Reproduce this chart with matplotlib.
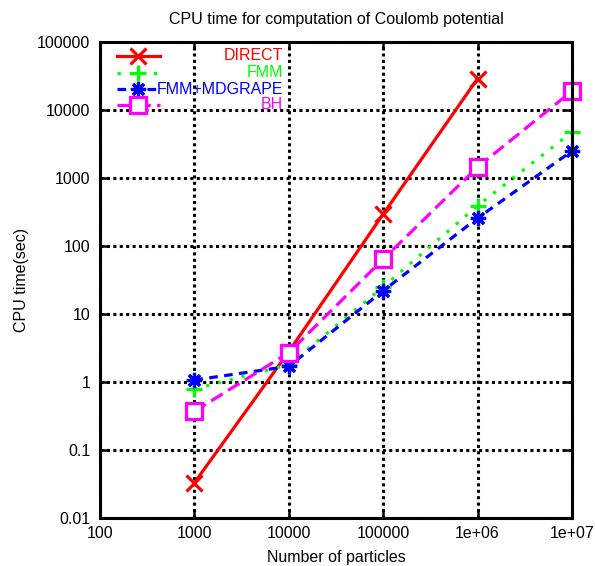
import matplotlib
matplotlib.use('Agg')
import matplotlib.pyplot as plt

# ---- data ----
n_all = [1000, 10000, 100000, 1000000, 10000000]
n_direct = [1000, 10000, 100000, 1000000]
direct = [0.033, 2.8, 295, 29000]
fmm = [0.79, 1.8, 25, 390, 4750]
mdgrape = [1.07, 1.7, 22, 257, 2500]
bh = [0.37, 2.7, 64, 1450, 19000]

xticks = [100, 1000, 10000, 100000, 1000000, 10000000]
xlabels = ["100", "1000", "10000", "100000", "1e+06", "1e+07"]
yticks = [0.01, 0.1, 1, 10, 100, 1000, 10000, 100000]
ylabels = ["0.01", "0.1", "1", "10", "100", "1000", "10000", "100000"]

series_names = ["DIRECT", "FMM", "FMM+MDGRAPE", "BH"]

plt.rcParams['font.family'] = ['Liberation Sans', 'DejaVu Sans']
FS = 11.5

fig = plt.figure(figsize=(5.95, 5.66), dpi=100)
ax = fig.add_axes([100/595, 1-518/566, 472/595, 476/566])
ax.set_xscale('log')
ax.set_yscale('log')
ax.set_xlim(100, 1e7)
ax.set_ylim(0.01, 1e5)

LW = 2.3
MS = 11
MEW = 2.3

styles = [
    dict(color='#ff0000', linestyle='-', marker='x', markersize=MS),
    dict(color='#00ff00', linestyle=(0, (1, 2.8)), marker='+', markersize=MS + 1),
    dict(color='#0000ff', linestyle=(0, (2.7, 2.0)), marker=(8, 2, 0), markersize=MS),
    dict(color='#ff00ff', linestyle=(0, (4.2, 2.0)), marker='s', markersize=MS + 1,
         markerfacecolor='white'),
]
datasets = [(n_direct, direct), (n_all, fmm), (n_all, mdgrape), (n_all, bh)]

for (xs, ys), st in zip(datasets, styles):
    ax.plot(xs, ys, linewidth=LW, markeredgewidth=MEW, dash_capstyle='butt',
            zorder=3, clip_on=False, **st)

# grid
ax.set_xticks(xticks, xlabels)
ax.set_yticks(yticks, ylabels)
ax.minorticks_off()
ax.grid(True, which='major', color='black', linestyle=(0, (1, 1.1)), linewidth=2.2)
ax.set_axisbelow(True)

for sp in ax.spines.values():
    sp.set_linewidth(2.2)
    sp.set_zorder(4)

ax.tick_params(which='major', direction='in', length=5.8, width=1.8,
               top=True, right=True, labelsize=FS, colors='black')
ax.tick_params(axis='x', pad=6)
ax.tick_params(axis='y', pad=7)

ax.set_title("CPU time for computation of Coulomb potential", fontsize=FS, pad=13)
ax.set_xlabel("Number of particles", fontsize=FS, labelpad=6)
ax.set_ylabel("CPU time(sec)", fontsize=FS, labelpad=6)

# manual gnuplot-style key: sample left, text right-justified
rows = [0.9706, 0.935, 0.901, 0.868]
x0, x1, xm, xt = 0.036, 0.127, 0.0805, 0.388
for name, st, yy in zip(series_names, styles, rows):
    lst = dict(st)
    marker = lst.pop('marker')
    ms = lst.pop('markersize')
    mfc = lst.pop('markerfacecolor', None)
    ax.plot([x0, x1], [yy, yy], transform=ax.transAxes, linewidth=LW,
            dash_capstyle='butt', zorder=5, clip_on=False, **lst)
    kw = dict(markerfacecolor=mfc) if mfc else {}
    ax.plot([xm], [yy], transform=ax.transAxes, marker=marker, markersize=ms,
            markeredgewidth=MEW, color=st['color'], linestyle='none', zorder=6,
            clip_on=False, **kw)
    ax.text(xt, yy, name, transform=ax.transAxes, ha='right', va='center',
            color=st['color'], fontsize=FS, zorder=6)

fig.savefig('out.png', dpi=100)
